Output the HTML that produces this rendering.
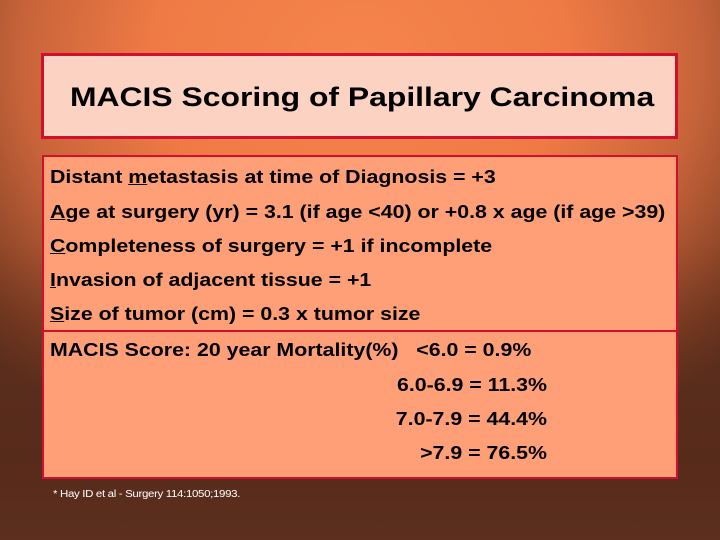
<!DOCTYPE html>
<html><head><style>
body{margin:0;width:720px;height:540px;overflow:hidden;font-family:"Liberation Sans",Arial,sans-serif;
background:radial-gradient(ellipse 520px 420px at 360px 60px,#f5844c 0%,#ef7a45 40%,#c8643a 65%,#7a3c22 90%,#5e3220 100%);position:relative}
.bg2{position:absolute;left:0;top:0;width:720px;height:540px;background:linear-gradient(to bottom,rgba(0,0,0,0) 0%,rgba(0,0,0,0) 45%,rgba(80,35,20,0.5) 85%,rgba(90,45,30,0.6) 100%)}
.title{position:absolute;left:41px;top:53px;width:631px;height:80px;border:3px solid #d0102c;background:#fcd2c2;}
.title span{position:absolute;left:26px;top:26px;font-weight:bold;font-size:27px;color:#000;white-space:nowrap;transform:scaleX(1.18);transform-origin:left}
.box{position:absolute;left:42px;top:155px;width:632px;height:320px;border:2px solid #d0102c;background:#fe9f78}
.div{position:absolute;left:0;top:173px;width:632px;height:2px;background:#d0102c}
.t{position:absolute;font-weight:bold;font-size:18px;color:#000;white-space:nowrap;transform:scaleX(1.185);transform-origin:left}
.r{text-align:right;width:500px;left:3px;transform-origin:right}
.foot{position:absolute;left:53px;top:489px;font-size:10px;color:#fff;letter-spacing:-0.3px;transform:scaleX(1.15);transform-origin:left;white-space:nowrap}
</style></head><body>
<div class="bg2"></div>
<div class="title"><span>MACIS Scoring of Papillary Carcinoma</span></div>
<div class="box">
<div class="t" style="left:6px;top:10px">Distant <u>m</u>etastasis at time of Diagnosis = +3</div>
<div class="t" style="left:6px;top:45px"><u>A</u>ge at surgery (yr) = 3.1 (if age &lt;40) or +0.8 x age (if age &gt;39)</div>
<div class="t" style="left:6px;top:79px"><u>C</u>ompleteness of surgery = +1 if incomplete</div>
<div class="t" style="left:6px;top:113px"><u>I</u>nvasion of adjacent tissue = +1</div>
<div class="t" style="left:6px;top:147px"><u>S</u>ize of tumor (cm) = 0.3 x tumor size</div>
<div class="div"></div>
<div class="t" style="left:6px;top:183px">MACIS Score: 20 year Mortality(%)&nbsp;&nbsp;&nbsp;&lt;6.0 = 0.9%</div>
<div class="t r" style="top:218px">6.0-6.9 = 11.3%</div>
<div class="t r" style="top:252px">7.0-7.9 = 44.4%</div>
<div class="t r" style="top:286px">&gt;7.9 = 76.5%</div>
</div>
<div class="foot">* Hay ID et al - Surgery 114:1050;1993.</div>
</body></html>
